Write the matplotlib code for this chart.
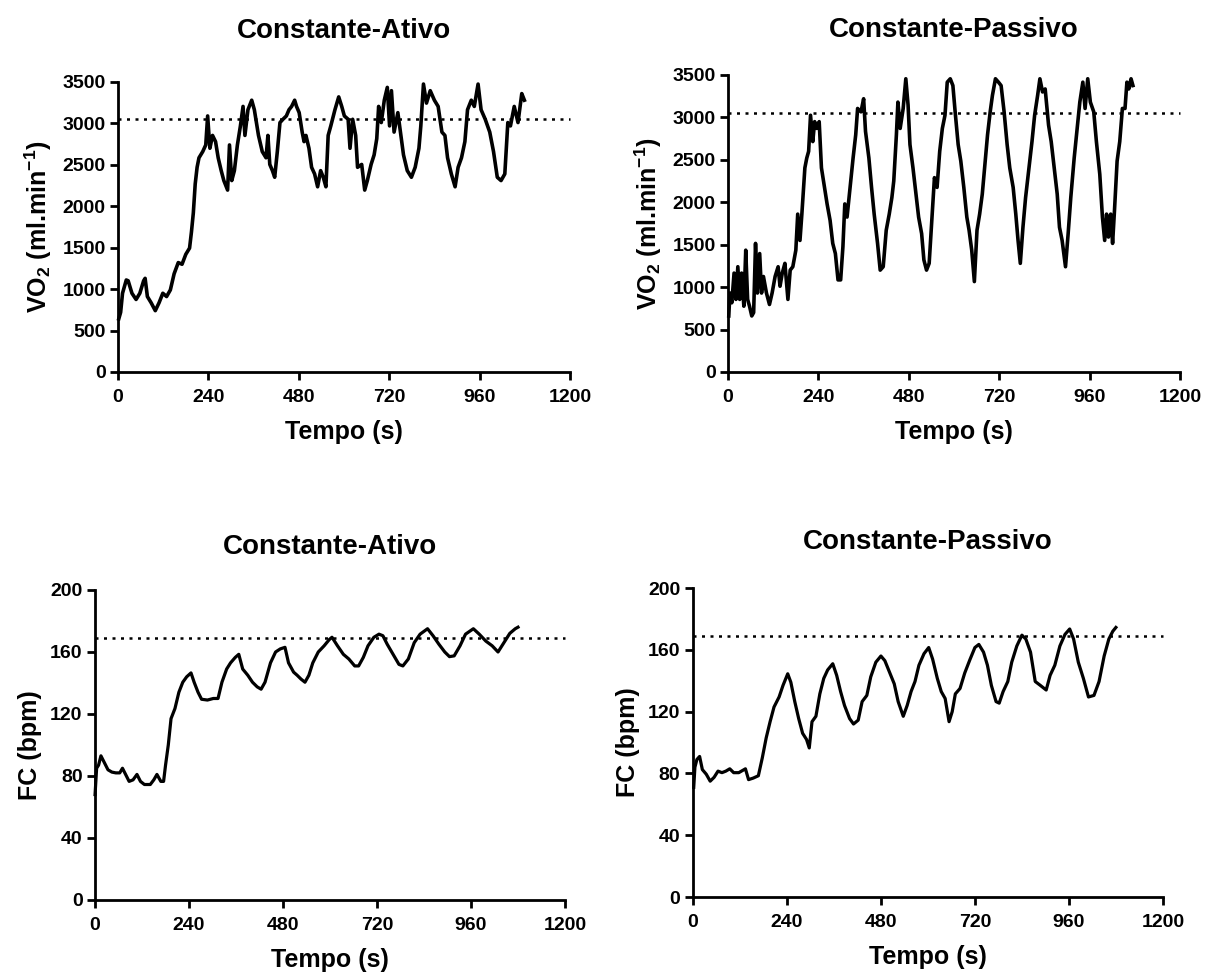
import matplotlib
matplotlib.use("Agg")
import matplotlib.pyplot as plt

plt.rcParams["font.family"] = ["Liberation Sans", "DejaVu Sans"]
plt.rcParams["font.weight"] = "bold"
plt.rcParams["mathtext.fontset"] = "custom"
plt.rcParams["mathtext.rm"] = "Liberation Sans:bold"
plt.rcParams["mathtext.bf"] = "Liberation Sans:bold"

# VO2 - Constante-Ativo
t_vo2_ativo = [2, 7, 12, 22, 27, 37, 48, 58, 68, 72,
               78, 88, 99, 109, 119, 129, 139, 149, 160, 170,
               180, 190, 195, 200, 205, 210, 215, 225, 233, 238,
               244, 251, 259, 266, 274, 281, 291, 296, 302, 309,
               317, 325, 332, 337, 345, 355, 362, 373, 383, 393,
               398, 403, 410, 416, 423, 430, 438, 447, 454, 461,
               469, 474, 481, 489, 494, 499, 507, 514, 522, 530,
               538, 545, 552, 558, 565, 576, 586, 594, 601, 611,
               616, 623, 631, 636, 647, 655, 662, 672, 680, 687,
               692, 699, 707, 715, 721, 726, 733, 743, 751, 758,
               768, 779, 789, 799, 804, 811, 819, 829, 840, 850,
               860, 868, 875, 885, 895, 903, 912, 921, 928, 938,
               946, 956, 964, 975, 987, 997, 1007, 1017, 1027, 1035,
               1042, 1052, 1062, 1072, 1079]
vo2_ativo = [640, 720, 950, 1110, 1100, 950, 875, 950, 1100, 1130,
             910, 835, 740, 835, 950, 910, 990, 1185, 1320, 1300,
             1420, 1495, 1690, 1920, 2270, 2470, 2585, 2660, 2740, 3090,
             2700, 2855, 2780, 2585, 2430, 2310, 2195, 2740, 2310, 2430,
             2740, 2970, 3205, 2855, 3165, 3280, 3165, 2855, 2660, 2585,
             2855, 2505, 2430, 2350, 2660, 3010, 3050, 3090, 3165, 3205,
             3280, 3205, 3130, 2895, 2780, 2855, 2700, 2470, 2390, 2235,
             2430, 2350, 2235, 2855, 2970, 3165, 3320, 3205, 3090, 3050,
             2700, 3050, 2855, 2470, 2505, 2195, 2310, 2505, 2620, 2815,
             3205, 3010, 3280, 3435, 2970, 3395, 2895, 3130, 2855, 2620,
             2430, 2350, 2470, 2700, 2970, 3475, 3245, 3395, 3280, 3205,
             2895, 2855, 2585, 2390, 2235, 2470, 2585, 2780, 3165, 3280,
             3205, 3475, 3165, 3050, 2895, 2660, 2350, 2310, 2390, 3010,
             2970, 3205, 3010, 3360, 3280]

# VO2 - Constante-Passivo
t_vo2_passivo = [2, 5, 10, 16, 21, 26, 31, 36, 42, 47,
                 52, 57, 63, 68, 73, 78, 84, 89, 94, 102,
                 110, 117, 125, 133, 138, 144, 151, 159, 165, 172,
                 180, 185, 191, 196, 204, 209, 214, 219, 225, 230,
                 236, 242, 248, 256, 263, 271, 278, 285, 292, 299,
                 305, 310, 316, 324, 332, 339, 344, 353, 360, 365,
                 374, 381, 388, 397, 404, 412, 420, 428, 435, 440,
                 447, 451, 457, 465, 472, 478, 483, 491, 499, 506,
                 514, 520, 527, 534, 541, 548, 555, 562, 569, 576,
                 582, 590, 597, 603, 611, 618, 626, 634, 640, 647,
                 654, 661, 668, 675, 682, 689, 696, 702, 710, 718,
                 725, 733, 741, 748, 757, 764, 770, 776, 783, 790,
                 799, 807, 814, 822, 828, 835, 842, 851, 858, 866,
                 874, 880, 887, 896, 903, 910, 919, 927, 934, 942,
                 948, 955, 962, 971, 978, 987, 994, 1000, 1005, 1010,
                 1016, 1021, 1026, 1033, 1040, 1047, 1054, 1059, 1064, 1070,
                 1075]
vo2_passivo = [660, 930, 815, 1165, 855, 1240, 855, 1165, 775, 1435,
               855, 775, 660, 700, 1515, 930, 1395, 930, 1125, 930,
               795, 930, 1125, 1240, 1010, 1165, 1280, 855, 1200, 1240,
               1435, 1860, 1550, 1860, 2405, 2520, 2600, 3025, 2715, 2950,
               2870, 2950, 2405, 2175, 1980, 1785, 1515, 1395, 1085, 1085,
               1475, 1980, 1825, 2175, 2520, 2795, 3105, 3065, 3220, 2835,
               2520, 2175, 1860, 1515, 1200, 1240, 1670, 1860, 2055, 2250,
               2795, 3180, 2870, 3105, 3455, 3145, 2680, 2405, 2095, 1825,
               1630, 1320, 1200, 1280, 1785, 2290, 2175, 2600, 2870, 3025,
               3415, 3455, 3375, 3065, 2680, 2485, 2175, 1825, 1670, 1435,
               1065, 1670, 1860, 2095, 2445, 2795, 3065, 3260, 3455, 3415,
               3375, 3065, 2680, 2405, 2175, 1860, 1550, 1280, 1705, 2055,
               2405, 2715, 3025, 3260, 3455, 3300, 3335, 2910, 2715, 2405,
               2095, 1705, 1550, 1240, 1630, 2055, 2520, 2870, 3180, 3415,
               3105, 3455, 3180, 3065, 2715, 2330, 1825, 1550, 1860, 1590,
               1860, 1515, 1900, 2485, 2715, 3105, 3105, 3415, 3335, 3455,
               3375]

# FC - Constante-Ativo
t_fc_ativo = [0, 4, 9, 15, 23, 33, 43, 53, 63, 70,
              78, 87, 97, 107, 116, 126, 141, 150, 158, 168,
              175, 180, 187, 194, 204, 214, 224, 234, 245, 253,
              263, 272, 287, 302, 314, 324, 336, 346, 358, 367,
              377, 390, 402, 414, 424, 434, 448, 461, 473, 485,
              494, 507, 516, 526, 536, 546, 556, 570, 585, 598,
              605, 619, 634, 648, 663, 673, 685, 697, 712, 725,
              735, 746, 761, 776, 786, 800, 815, 830, 849, 863,
              878, 893, 905, 917, 932, 946, 966, 981, 998, 1014,
              1029, 1044, 1059, 1073, 1080]
fc_ativo = [68, 85, 87, 93, 89, 84, 82.5, 82, 82, 85,
            81, 76.5, 77.5, 81, 76.5, 74.5, 74.5, 77.5, 81, 76.5,
            76.5, 87, 100, 117, 123.5, 134, 140.5, 144, 146.5, 140.5,
            134, 129.5, 129, 130, 130, 140.5, 149, 153, 156.5, 158.5,
            149, 145, 140.5, 137.5, 136, 140.5, 153, 160, 162, 163,
            153, 147, 145, 142.5, 140.5, 145, 153, 160, 164, 168,
            169.5, 164, 158.5, 155.5, 151, 151, 156.5, 164, 169.5, 171.5,
            170.5, 165, 158.5, 152, 151, 155.5, 166, 171.5, 175, 170.5,
            165, 160, 157, 157.5, 164, 171.5, 175, 171.5, 167, 164,
            160, 166, 172, 175, 176]

# FC - Constante-Passivo
t_fc_passivo = [2, 5, 10, 17, 24, 34, 44, 54, 64, 74,
                84, 94, 104, 117, 134, 142, 154, 167, 177, 187,
                197, 207, 220, 230, 242, 250, 260, 270, 280, 290,
                297, 304, 314, 324, 334, 344, 357, 367, 377, 387,
                400, 410, 422, 432, 444, 454, 467, 480, 490, 502,
                514, 524, 537, 547, 557, 567, 577, 590, 602, 612,
                624, 634, 644, 654, 662, 670, 682, 694, 707, 720,
                730, 742, 752, 762, 774, 782, 792, 804, 814, 827,
                840, 850, 862, 874, 887, 902, 912, 924, 937, 950,
                962, 972, 984, 997, 1010, 1024, 1037, 1050, 1062, 1072,
                1080]
fc_passivo = [71, 84, 89, 91, 82.5, 79.5, 75, 77.5, 81.5, 80.5,
              81.5, 83, 80.5, 80.5, 83, 76, 77, 78.5, 90, 103,
              113.5, 123, 129.5, 137, 144.5, 139, 126.5, 115.5, 106, 102,
              96.5, 113.5, 117, 131.5, 141.5, 147, 151, 143.5, 133, 124,
              115.5, 112, 114.5, 126.5, 130.5, 142.5, 152, 156, 153, 145.5,
              138, 126.5, 117, 124, 133, 139.5, 150, 157.5, 161.5, 154,
              141.5, 133, 128.5, 113.5, 120, 131.5, 135, 145, 153.5, 161.5,
              163.5, 158.5, 150, 137, 126.5, 125.5, 133, 139.5, 152, 162.5,
              169.5, 167, 158.5, 139.5, 137, 134, 143.5, 150, 162.5, 170,
              173.5, 167, 152, 141.5, 129.5, 130.5, 139.5, 156, 167, 172,
              174.5]

vo2_ref = 3050
fc_ref = 169
x_ticks = [0, 240, 480, 720, 960, 1200]
vo2_ticks = [0, 500, 1000, 1500, 2000, 2500, 3000, 3500]
fc_ticks = [0, 40, 80, 120, 160, 200]

fig = plt.figure(figsize=(12.14, 9.76), dpi=100)

panels = [
    ([0.0972, 0.6189, 0.3723, 0.2971], t_vo2_ativo, vo2_ativo, vo2_ref, vo2_ticks,
     "Constante-Ativo", r"VO$_{2}$ (ml.min$^{-1}$)", 2.6, 32),
    ([0.5997, 0.6189, 0.3723, 0.3043], t_vo2_passivo, vo2_passivo, vo2_ref, vo2_ticks,
     "Constante-Passivo", r"VO$_{2}$ (ml.min$^{-1}$)", 2.6, 27),
    ([0.0783, 0.0779, 0.3871, 0.3176], t_fc_ativo, fc_ativo, fc_ref, fc_ticks,
     "Constante-Ativo", "FC (bpm)", 2.3, 26),
    ([0.5708, 0.0809, 0.3871, 0.3166], t_fc_passivo, fc_passivo, fc_ref, fc_ticks,
     "Constante-Passivo", "FC (bpm)", 2.3, 28),
]

for rect, t, y, ref, yticks, title, ylabel, lw, pad in panels:
    ax = fig.add_axes(rect)
    ax.plot(t, y, color="black", linewidth=lw, clip_on=False)
    ax.plot([0, 1200], [ref, ref], color="black", linestyle=(0, (1.2, 2.2)),
            linewidth=1.8, clip_on=False)
    ax.set_xlim(0, 1200)
    ax.set_ylim(yticks[0], yticks[-1])
    ax.set_xticks(x_ticks)
    ax.set_yticks(yticks)
    for side in ["top", "right"]:
        ax.spines[side].set_visible(False)
    for side in ["left", "bottom"]:
        ax.spines[side].set_linewidth(2)
    ax.tick_params(direction="out", length=6, width=2, labelsize=14, pad=3)
    ax.tick_params(axis="x", pad=6)
    for lab in ax.get_xticklabels() + ax.get_yticklabels():
        lab.set_fontweight("bold")
    ax.set_title(title, fontsize=20, fontweight="bold", pad=pad)
    ax.set_xlabel("Tempo (s)", fontsize=18, fontweight="bold", labelpad=10)
    ax.set_ylabel(ylabel, fontsize=18, fontweight="bold", labelpad=6)

fig.savefig("out.png", dpi=100)
